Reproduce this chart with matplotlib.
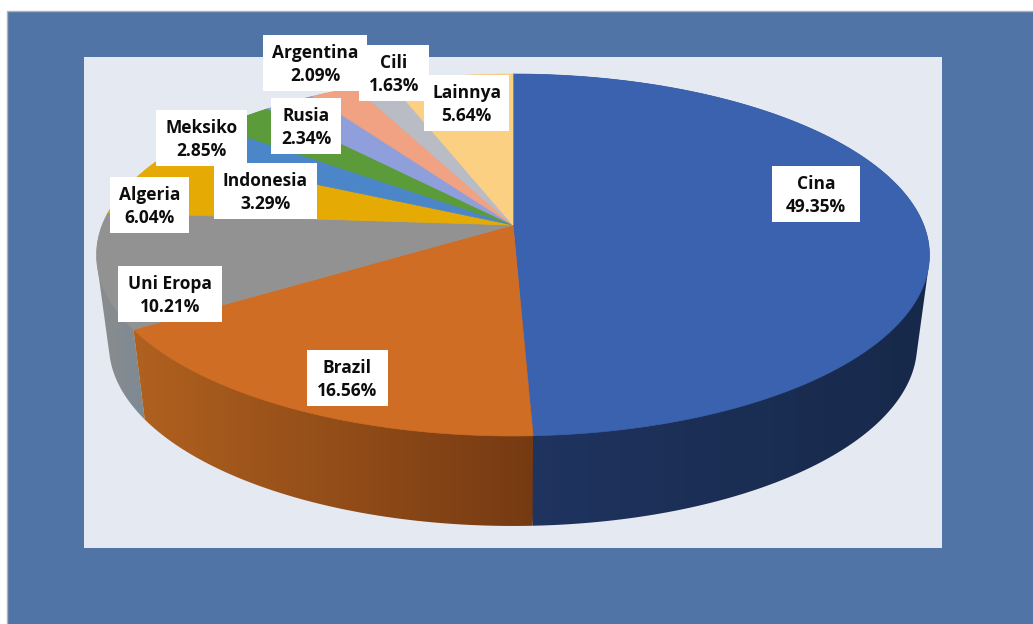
import matplotlib
matplotlib.use('Agg')
import matplotlib.pyplot as plt
from matplotlib.colors import LinearSegmentedColormap
from matplotlib.patches import Polygon, Rectangle
import numpy as np

plt.rcParams['font.family'] = ['Open Sans', 'DejaVu Sans']

# Data
categories = ['Cina', 'Brazil', 'Uni Eropa', 'Algeria', 'Indonesia', 'Meksiko',
              'Rusia', 'Argentina', 'Cili', 'Lainnya']
shares = [49.35, 16.56, 10.21, 6.04, 3.29, 2.85, 2.34, 2.09, 1.63, 5.64]

# Top and side colours of each slice
top_colors = ['#3a62ae', '#d06d25', '#929292', '#e6aa05', '#4a86c8', '#5b9b3a',
              '#8f9fdc', '#f0a283', '#b9bcc4', '#fbd083']
side_left = ['#1f3460', '#b0611f', '#8c8c8c', '#a87c04', '#365f90', '#41702a',
             '#6773a0', '#af765f', '#868890', '#b6975f']
side_right = ['#17294a', '#763a12', '#7c8a95', '#a87c04', '#365f90', '#41702a',
              '#6773a0', '#af765f', '#868890', '#b6975f']

# Label boxes: left, top, right, bottom in pixels
boxes = [(772, 166, 860, 222), (307, 350, 388, 406), (118, 266, 222, 322),
         (110, 177, 189, 233), (214, 163, 317, 219), (156, 110, 247, 166),
         (271, 98, 341, 154), (263, 35, 367, 91), (359, 45, 429, 101),
         (424, 75, 509, 131)]

# Perspective of the disc (the centre is not the middle of the ellipse)
cx, cy = 513, 225
k = -0.1657
rx_top, ry_top = 410.7, 176
rx_low, ry_low = 398.5, 176
depth = 90


def project(theta, rx, ry, dy=0):
    # theta runs clockwise from the top of the pie
    X = np.sin(theta)
    Y = -np.cos(theta)
    d = 1 + k * Y
    return cx + rx * X / d, cy + dy + ry * Y / d


def hull(points):
    # convex hull, the wall's outline crosses itself at the far left and right
    pts = sorted(set(points))
    def half(seq):
        out = []
        for p in seq:
            while len(out) > 1 and ((out[-1][0] - out[-2][0]) * (p[1] - out[-2][1])
                                    - (out[-1][1] - out[-2][1]) * (p[0] - out[-2][0])) <= 0:
                out.pop()
            out.append(p)
        return out[:-1]
    return half(pts) + half(pts[::-1])


fig = plt.figure(figsize=(10.33, 6.24), dpi=100, facecolor='white')
ax = fig.add_axes([0, 0, 1, 1])

ax.add_patch(Rectangle((7, 11), 1030, 620, facecolor='#4f74a5', edgecolor='#b5b0a8', lw=1))
ax.add_patch(Rectangle((84, 57), 858, 491, facecolor='#e5e9f1', edgecolor='none'))

edges = np.radians(np.cumsum([0] + shares) * 3.6)

# Side wall first, the top face covers the rest. Brazil has to end up above Cina
# and Uni Eropa so its edges stay clean
grad = np.linspace(0, 1, 256).reshape(1, -1)
wall_order = [0] + list(range(len(shares) - 1, 0, -1))
for n, i in enumerate(wall_order):
    t = np.linspace(edges[i], edges[i + 1], int(shares[i] * 6) + 2)
    x1, y1 = project(t, rx_top, ry_top)
    x2, y2 = project(t, rx_low, ry_low, depth)
    px = np.r_[x1, x2]
    py = np.r_[y1, y2]
    outline = hull([(float(a), float(b)) for a, b in zip(px, py)])
    wall = Polygon(outline, closed=True, facecolor='none', edgecolor='none')
    ax.add_patch(wall)
    cmap = LinearSegmentedColormap.from_list('side', [side_left[i], side_right[i]])
    im = ax.imshow(grad, extent=(px.min(), px.max(), py.max(), py.min()), cmap=cmap,
                   aspect='auto', interpolation='bilinear', zorder=2 + 0.01 * n)
    im.set_clip_path(wall)

# Top face
for i in range(len(shares)):
    t = np.linspace(edges[i], edges[i + 1], int(shares[i] * 6) + 2)
    x, y = project(t, rx_top, ry_top)
    ax.fill(np.r_[cx, x], np.r_[cy, y], color=top_colors[i], lw=0.5, zorder=3)

# Labels
for name, val, (l, t, r, b) in zip(categories, shares, boxes):
    ax.add_patch(Rectangle((l, t), r - l, b - t, facecolor='white', edgecolor='none', zorder=4))
    ax.text((l + r) / 2, (t + b) / 2 + 1.5, f'{name}\n{val:.2f}%', ha='center', va='center',
            fontsize=12.5, fontweight='bold', color='#0d0d0d', linespacing=1.3, zorder=5)

ax.set_xlim(0, 1033)
ax.set_ylim(624, 0)
ax.axis('off')

fig.savefig('out.png', dpi=100)
